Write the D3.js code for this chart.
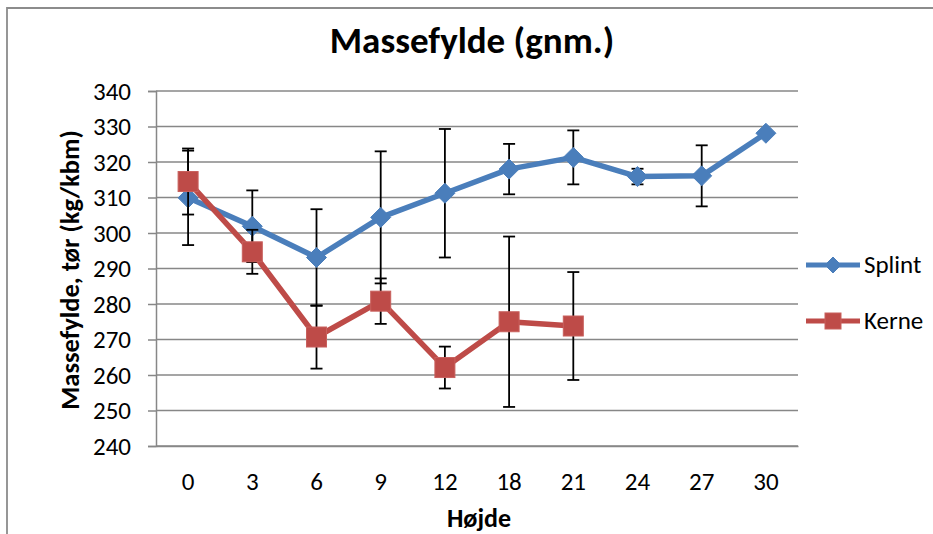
<!DOCTYPE html>
<html><head><meta charset="utf-8">
<script src="https://cdn.jsdelivr.net/npm/d3@7"></script>
<style>
html,body{margin:0;padding:0;background:#fff;}
svg{display:block;font-family:Carlito,Calibri,Lato,"Open Sans",sans-serif;}
</style></head>
<body>
<svg id="chart" width="933" height="534"></svg>
<script>
const categories = ["0","3","6","9","12","18","21","24","27","30"];
const splint = [309.9, 301.9, 293.1, 304.4, 311.2, 318.0, 321.3, 315.9, 316.1, 328.1];
const splintErr = [13.3, 10.1, 13.6, 18.6, 18.1, 7.1, 7.6, 2.2, 8.6, 0];
const kerne = [314.5, 294.7, 270.7, 280.8, 262.1, 275.0, 273.8, null, null, null];
const kerneErr = [9.3, 6.2, 8.9, 6.4, 5.9, 24.0, 15.2, null, null, null];
const yTicks = [240, 250, 260, 270, 280, 290, 300, 310, 320, 330, 340];
const title = "Massefylde (gnm.)";
const yTitle = "Massefylde, tør (kg/kbm)";
const xTitle = "Højde";
const seriesNames = ["Splint", "Kerne"];
const colors = ["#4a7ebb", "#be4b48"];

const svg = d3.select("#chart");
const L = 156, R = 798, T = 91, B = 446;
const x = d3.scaleBand().domain(categories).range([L, R]);
const y = d3.scaleLinear().domain([240, 340]).range([B, T]);
const cx = c => x(c) + x.bandwidth() / 2;

// outer border
svg.append("path").attr("d", "M7,540 V8 H940").attr("fill", "none").attr("stroke", "#8c8c8c").attr("stroke-width", 1.8);

// gridlines
svg.append("g").selectAll("line").data(yTicks).join("line")
  .attr("x1", L).attr("x2", R).attr("y1", d => y(d)).attr("y2", d => y(d))
  .attr("stroke", "#878787").attr("stroke-width", 1.5);

// y axis
const yAxis = svg.append("g").attr("transform", `translate(${L},0)`)
  .call(d3.axisLeft(y).tickValues(yTicks).tickSize(8).tickPadding(17).tickFormat(d3.format("d")));
yAxis.select(".domain").attr("stroke", "#878787").attr("stroke-width", 1.5);
yAxis.selectAll(".tick line").attr("stroke", "#878787").attr("stroke-width", 1.5);
yAxis.selectAll("text").attr("font-size", 25).attr("font-family", "Carlito,Calibri,Lato,sans-serif").attr("fill", "#000");

// x axis
const xAxis = svg.append("g").attr("transform", `translate(0,${B})`)
  .call(d3.axisBottom(x).tickSize(0).tickPadding(26));
xAxis.select(".domain").attr("stroke", "#878787").attr("stroke-width", 1.5);
xAxis.selectAll("text").attr("font-size", 25).attr("font-family", "Carlito,Calibri,Lato,sans-serif").attr("fill", "#000");

// titles
svg.append("text").attr("x", 472).attr("y", 53).attr("text-anchor", "middle")
  .attr("font-size", 37).attr("font-weight", "bold").text(title);
svg.append("text").attr("transform", "translate(79,270) rotate(-90)").attr("text-anchor", "middle")
  .attr("font-size", 26.5).attr("font-weight", "bold").text(yTitle);
svg.append("text").attr("x", 479).attr("y", 527).attr("text-anchor", "middle")
  .attr("font-size", 26).attr("font-weight", "bold").text(xTitle);

const series = [
  {vals: splint, err: splintErr, color: colors[0], shape: "diamond"},
  {vals: kerne, err: kerneErr, color: colors[1], shape: "square"}
];
const line = d3.line().defined(d => d.v != null).x(d => cx(d.c)).y(d => y(d.v));

function marker(g, shape, color, px, py, s) {
  if (shape === "diamond") {
    g.append("path").attr("d", `M${px},${py - s}L${px + s},${py}L${px},${py + s}L${px - s},${py}Z`)
      .attr("fill", color).attr("stroke", color).attr("stroke-width", 1);
  } else {
    g.append("rect").attr("x", px - s).attr("y", py - s).attr("width", 2 * s).attr("height", 2 * s)
      .attr("fill", color).attr("stroke", "#c8605d").attr("stroke-width", 1);
  }
}

series.forEach(s => {
  const g = svg.append("g");
  const pts = categories.map((c, i) => ({c, v: s.vals[i], e: s.err[i]}));
  g.append("path").datum(pts).attr("d", line).attr("fill", "none")
    .attr("stroke", s.color).attr("stroke-width", 5.5).attr("stroke-linejoin", "round");
  const eb = g.append("g");
  pts.filter(d => d.v != null && d.e).forEach(d => {
    const px = cx(d.c), y1 = y(d.v + d.e), y2 = y(d.v - d.e);
    eb.append("line").attr("x1", px).attr("x2", px).attr("y1", y1).attr("y2", y2).attr("stroke", "#000").attr("stroke-width", 1.8);
    [y1, y2].forEach(yy => eb.append("line").attr("x1", px - 6).attr("x2", px + 6).attr("y1", yy).attr("y2", yy).attr("stroke", "#000").attr("stroke-width", 1.8));
  });
  pts.filter(d => d.v != null).forEach(d => marker(g, s.shape, s.color, cx(d.c), y(d.v), 10));
});

// legend
const legY = [265, 321];
seriesNames.forEach((n, i) => {
  const g = svg.append("g");
  g.append("line").attr("x1", 806).attr("x2", 860).attr("y1", legY[i]).attr("y2", legY[i])
    .attr("stroke", colors[i]).attr("stroke-width", 5);
  marker(g, series[i].shape, colors[i], 833, legY[i], 8);
  g.append("text").attr("x", 864).attr("y", legY[i] + 8).attr("font-size", 25).text(n);
});
</script>
</body></html>
